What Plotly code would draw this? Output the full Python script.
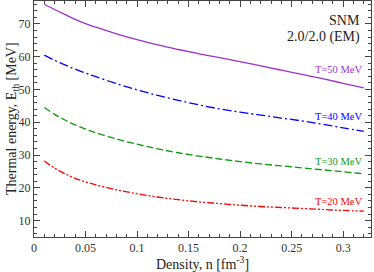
import plotly.graph_objects as go

density = [0.01, 0.02, 0.03, 0.04, 0.05, 0.06, 0.08, 0.10, 0.12, 0.14, 0.16,
           0.18, 0.20, 0.22, 0.24, 0.26, 0.28, 0.30, 0.32]
e_t50 = [76.0, 74.4, 72.9, 71.4, 70.1, 69.0, 67.0, 65.2, 63.6, 62.2, 60.9,
         59.7, 58.5, 57.2, 55.9, 54.6, 53.3, 51.9, 50.5]
e_t40 = [60.5, 58.9, 57.5, 56.2, 55.0, 53.9, 51.8, 49.9, 48.2, 46.7, 45.3,
         44.1, 43.1, 42.2, 41.3, 40.4, 39.4, 38.3, 37.2]
e_t30 = [44.5, 42.4, 40.7, 39.2, 37.9, 36.8, 34.9, 33.3, 31.9, 30.7, 29.7,
         28.8, 28.0, 27.3, 26.7, 26.1, 25.5, 24.9, 24.3]
e_t20 = [28.2, 26.0, 24.3, 22.9, 21.8, 20.9, 19.4, 18.2, 17.2, 16.4, 15.7,
         15.2, 14.7, 14.3, 14.0, 13.7, 13.4, 13.1, 12.9]

series_names = ["T=50 MeV", "T=40 MeV", "T=30 MeV", "T=20 MeV"]
series_vals = [e_t50, e_t40, e_t30, e_t20]
colors = ["#9933cc", "#0000ff", "#119911", "#ff0000"]
dashes = ["solid", "9px,3px,2px,3px", "7px,3px", "7px,2px,2px,2px,2px,2px"]
label_y = [56.1, 41.9, 27.9, 15.8]

x_ticks = [0, 0.05, 0.1, 0.15, 0.2, 0.25, 0.3]
x_tick_text = ["0", "0.05", "0.1", "0.15", "0.2", "0.25", "0.3"]
y_ticks = [10, 20, 30, 40, 50, 60, 70]

FONT = "Liberation Serif, Times New Roman, serif"
L, R, T, B = 34, 3, 1, 35
W, H = 374, 272

fig = go.Figure()
for name, vals, c, d in zip(series_names, series_vals, colors, dashes):
    fig.add_trace(go.Scatter(x=density, y=vals, mode="lines", name=name,
                             line=dict(color=c, width=1.3, dash=d, shape="spline")))

for name, c, ly in zip(series_names, colors, label_y):
    fig.add_annotation(x=0.3205, y=ly, xref="x", yref="y", text=name,
                       showarrow=False, xanchor="right", yanchor="middle",
                       font=dict(family=FONT, size=10.5, color=c))

fig.add_annotation(x=0.3185, y=71.0, xref="x", yref="y", text="SNM", showarrow=False,
                   xanchor="right", yanchor="middle", font=dict(family=FONT, size=14, color="#222"))
fig.add_annotation(x=0.3185, y=65.9, xref="x", yref="y", text="2.0/2.0 (EM)", showarrow=False,
                   xanchor="right", yanchor="middle", font=dict(family=FONT, size=14, color="#222"))

pw, ph = W - L - R, H - T - B
fig.add_annotation(x=-(L - 12) / pw, y=0.5, xref="paper", yref="paper",
                   xanchor="center", yanchor="middle",
                   text="Thermal energy, E<sub>th</sub> [MeV]", textangle=-90, showarrow=False,
                   font=dict(family=FONT, size=14, color="#222"))
fig.add_annotation(x=0.5, y=-(263 - (H - B)) / ph, xref="paper", yref="paper",
                   xanchor="center", yanchor="middle",
                   text="Density, n [fm<sup>-3</sup>]", showarrow=False,
                   font=dict(family=FONT, size=14, color="#222"))

axis_common = dict(showline=True, linecolor="#444", linewidth=1, mirror="ticks",
                   ticks="inside", tickcolor="#444", ticklen=6, tickwidth=1,
                   showgrid=False, zeroline=False, automargin=False,
                   tickfont=dict(family=FONT, size=12, color="#333"))

fig.update_xaxes(range=[0, 0.327], tickvals=x_ticks, ticktext=x_tick_text,
                 minor=dict(ticks="inside", ticklen=3, dtick=0.01, tick0=0, tickcolor="#444"),
                 **axis_common)
fig.update_yaxes(range=[5, 77], tickvals=y_ticks,
                 minor=dict(ticks="inside", ticklen=3, dtick=2, tick0=0, tickcolor="#444"),
                 **axis_common)

fig.update_layout(width=W, height=H, showlegend=False,
                  margin=dict(l=L, r=R, t=T, b=B, autoexpand=False),
                  paper_bgcolor="white", plot_bgcolor="white")

fig.write_html("out.html", config={"displayModeBar": False},
               post_script="document.body.style.margin='0';")
